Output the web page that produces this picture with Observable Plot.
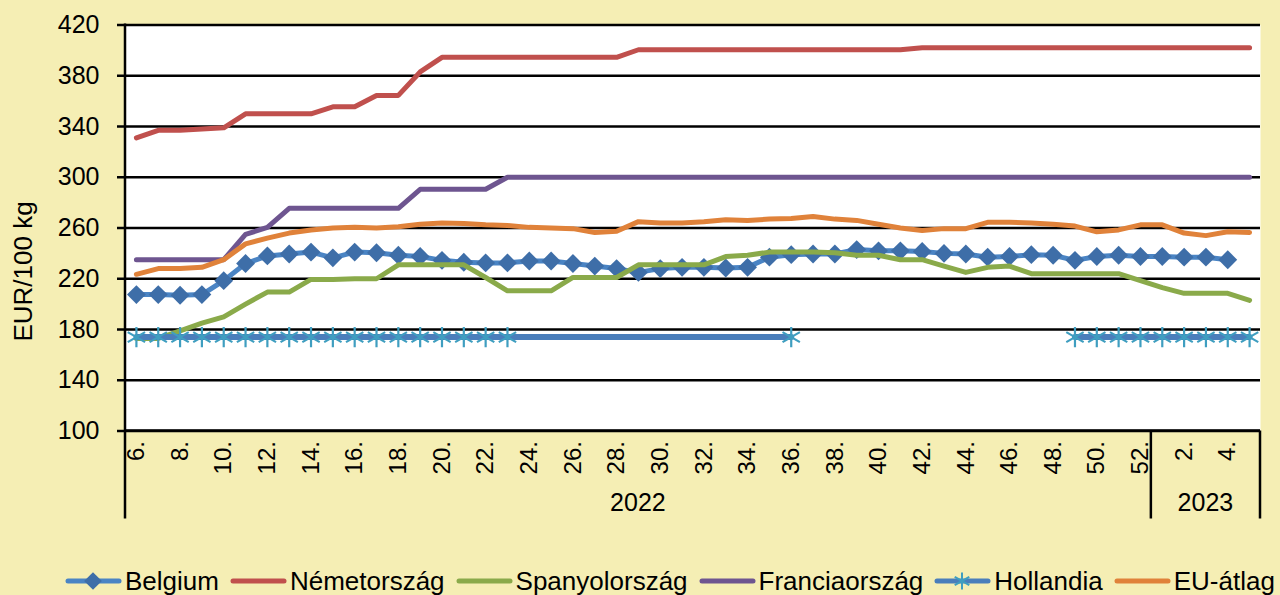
<!DOCTYPE html>
<html>
<head>
<meta charset="utf-8">
<script src="https://cdn.jsdelivr.net/npm/d3@7"></script>
<script src="https://cdn.jsdelivr.net/npm/@observablehq/plot@0.6"></script>
<style>
html,body{margin:0;padding:0;background:#F5EEB4;}
body{width:1280px;height:595px;overflow:hidden;font-family:"Liberation Sans",Arial,sans-serif;}
#chart svg{display:block;}
#legend{display:flex;align-items:center;white-space:nowrap;padding-left:65px;margin-top:12px;height:28px;font-size:26px;color:#000;}
.item{display:flex;align-items:center;margin-right:11px;}
.item svg{margin-right:3px;display:block;}
</style>
</head>
<body>
<div id="chart"></div>
<div id="legend"></div>
<script>
// ---- data ----
const weeks = [6,7,8,9,10,11,12,13,14,15,16,17,18,19,20,21,22,23,24,25,26,27,28,29,30,31,32,33,34,35,36,37,38,39,40,41,42,43,44,45,46,47,48,49,50,51,52,1,2,3,4,5];
const years = ["2022","2022","2022","2022","2022","2022","2022","2022","2022","2022","2022","2022","2022","2022","2022","2022","2022","2022","2022","2022","2022","2022","2022","2022","2022","2022","2022","2022","2022","2022","2022","2022","2022","2022","2022","2022","2022","2022","2022","2022","2022","2022","2022","2022","2022","2022","2022","2023","2023","2023","2023","2023"];
const xTickLabels = ["6.","8.","10.","12.","14.","16.","18.","20.","22.","24.","26.","28.","30.","32.","34.","36.","38.","40.","42.","44.","46.","48.","50.","52.","2.","4."];
const yTicks = [100,140,180,220,260,300,340,380,420];
const yLabel = "EUR/100 kg";

const belgium = [207.5,207.5,207,207.5,218.5,232,238,239.5,241,236.5,
  241,240.5,238.5,237.5,234.5,233,232.5,232.5,234,234,
  232,230,228,225,228,229,229,228.5,229,237,
  239,239.5,239.5,243,242,242,241.5,240,239.5,237,
  237.5,239,238.5,234.5,237.5,238.5,237.5,
  237.5,237,237,235,null];
const germany = [331,337,337,338,339,350,350,350,350,355.5,
  355.5,364.5,364.5,383,394.5,394.5,394.5,394.5,394.5,394.5,
  394.5,394.5,394.5,400.5,400.5,400.5,400.5,400.5,400.5,400.5,
  400.5,400.5,400.5,400.5,400.5,400.5,402,402,402,402,
  402,402,402,402,402,402,402,
  402,402,402,402,402];
const spain = [173,173,179,185,190,200,209.5,209.5,219.5,219.5,
  220,220,231,231,231,231,221,210.5,210.5,210.5,
  221,221,221,231,231,231,231,237.5,238.5,241,
  241,241,240.5,238.5,238.5,235,235,230,225,229,
  230,224,224,224,224,224,218.5,
  213,208.5,208.5,208.5,203];
const france = [235,235,235,235,235,255,260.5,275.5,275.5,275.5,
  275.5,275.5,275.5,290.5,290.5,290.5,290.5,300,300,300,
  300,300,300,300,300,300,300,300,300,300,
  300,300,300,300,300,300,300,300,300,300,
  300,300,300,300,300,300,300,
  300,300,300,300,300];
// "#N/A" = not reported, bridged by the line; null = empty, leaves a gap
const hollandia = [174,174,174,174,174,174,174,174,174,174,
  174,174,174,174,174,174,174,174,"#N/A","#N/A",
  "#N/A","#N/A","#N/A","#N/A","#N/A","#N/A","#N/A","#N/A","#N/A","#N/A",
  174,null,null,null,null,null,null,null,null,null,
  null,null,null,174,174,174,174,
  174,174,174,174,174];
const euAvg = [223.5,228,228,229,235,247.5,252,256,258.5,260,
  260.5,260,261,263,264,263.5,262.5,262,260.5,260,
  259.5,256.5,257.5,265,264,264,265,266.5,266,267,
  267.5,269,267,266,263,260,258,259.5,259.5,264.5,
  264.5,264,263,261.5,257,258.5,262.5,
  262.5,256,254,257,256.5];

const seriesNames = ["Belgium","Németország","Spanyolország","Franciaország","Hollandia","EU-átlag"];
const colors = {
  Belgium: "#4A84C4", BelgiumMarker: "#3E6EA8",
  "Németország": "#C0504D", "Spanyolország": "#8AAA4A", "Franciaország": "#6E5590",
  Hollandia: "#4A7EBB", HollandiaMarker: "#3F9EC0", "EU-átlag": "#E0823A"
};

// ---- helpers ----
const rows = vals => vals.map((v, i) => ({i, v}));
const lineRows = vals => rows(vals).filter(d => d.v !== "#N/A").map(d => ({i: d.i, v: typeof d.v === "number" ? d.v : null}));
const pointRows = vals => rows(vals).filter(d => typeof d.v === "number");
const xTickIdx = xTickLabels.map(l => weeks.indexOf(parseInt(l)));
const lineOpts = (c, w) => ({x: "i", y: "v", stroke: c, strokeWidth: w, strokeLinecap: "round", strokeLinejoin: "round"});

const chart = Plot.plot({
  width: 1280,
  height: 555,
  marginLeft: 125,
  marginRight: 20,
  marginTop: 24.5,
  marginBottom: 124.5,
  style: {fontFamily: "'Liberation Sans', Arial, sans-serif", fontSize: "25px", background: "transparent", color: "black", overflow: "visible"},
  x: {type: "linear", domain: [-0.5, weeks.length - 0.5], ticks: xTickIdx, tickFormat: i => xTickLabels[xTickIdx.indexOf(i)], tickRotate: -90, tickSize: 0, tickPadding: 10, label: null},
  y: {domain: [yTicks[0], yTicks[yTicks.length - 1]], ticks: yTicks, tickSize: 8, tickPadding: 18, tickFormat: d => String(d), label: null},
  marks: [
    Plot.frame({fill: "white", stroke: null}),
    Plot.ruleY(yTicks, {stroke: "black", strokeWidth: 2.5}),
    Plot.line(lineRows(belgium), lineOpts(colors.Belgium, 5)),
    Plot.dot(pointRows(belgium), {x: "i", y: "v", symbol: "diamond2", r: 8.5, fill: colors.BelgiumMarker, stroke: null}),
    Plot.line(lineRows(germany), lineOpts(colors["Németország"], 5)),
    Plot.line(lineRows(spain), lineOpts(colors["Spanyolország"], 5)),
    Plot.line(lineRows(france), lineOpts(colors["Franciaország"], 5)),
    Plot.line(lineRows(hollandia), lineOpts(colors.Hollandia, 6)),
    Plot.dot(pointRows(hollandia), {x: "i", y: "v", symbol: "asterisk", r: 9.5, stroke: colors.HollandiaMarker, strokeWidth: 2.2, fill: "none"}),
    Plot.line(lineRows(euAvg), lineOpts(colors["EU-átlag"], 5))
  ]
});
document.getElementById("chart").appendChild(chart);

// axis styling
const css = document.createElement("style");
css.textContent = `
#chart [aria-label^="y-axis"] path, #chart [aria-label^="y-axis"] line {stroke:#000;stroke-width:2.5;}
#chart [aria-label^="x-axis"] text {font-size:24px;}
`;
document.head.appendChild(css);

// multi-level category axis: group separators and year labels, placed with Plot's scales
const xs = chart.scale("x"), ys = chart.scale("y");
const svg = d3.select(chart);
const yBase = ys.apply(yTicks[0]);
const yTop = ys.apply(yTicks[yTicks.length - 1]);
const groupDepth = 88;
const groups = d3.groups(years.map((y, i) => ({y, i})), d => d.y)
  .map(([yr, arr]) => ({yr, a: arr[0].i - 0.5, b: arr[arr.length - 1].i + 0.5}));
const g = svg.append("g");
const bounds = [groups[0].a, ...groups.map(d => d.b)];
bounds.forEach((b, k) => {
  g.append("line")
    .attr("x1", xs.apply(b)).attr("x2", xs.apply(b))
    .attr("y1", k === 0 ? yTop - 1 : yBase).attr("y2", yBase + groupDepth)
    .attr("stroke", "#000").attr("stroke-width", 2.5);
});
g.append("line")
  .attr("x1", xs.apply(groups[0].a)).attr("x2", xs.apply(groups[groups.length - 1].b))
  .attr("y1", yBase).attr("y2", yBase).attr("stroke", "#000").attr("stroke-width", 2.5);
groups.forEach(d => {
  g.append("text")
    .attr("x", (xs.apply(d.a) + xs.apply(d.b)) / 2)
    .attr("y", yBase + 71)
    .attr("text-anchor", "middle").attr("dominant-baseline", "central")
    .attr("font-size", 25).attr("fill", "#000")
    .text(d.yr);
});
g.append("text")
  .attr("transform", `translate(23,${(yTop + yBase + groupDepth) / 2}) rotate(-90)`)
  .attr("text-anchor", "middle").attr("dominant-baseline", "central")
  .attr("font-size", 26).attr("fill", "#000")
  .text(yLabel);

// legend
const legend = d3.select("#legend");
seriesNames.forEach(name => {
  const item = legend.append("div").attr("class", "item");
  const s = item.append("svg").attr("width", 57).attr("height", 24);
  s.append("line").attr("x1", 3).attr("x2", 54).attr("y1", 12).attr("y2", 12)
    .attr("stroke", colors[name]).attr("stroke-width", 5).attr("stroke-linecap", "round");
  if (name === "Belgium") {
    s.append("path").attr("d", d3.symbol(d3.symbolDiamond2, 200)()).attr("transform", "translate(28,12)").attr("fill", colors.BelgiumMarker);
  }
  if (name === "Hollandia") {
    s.append("path").attr("d", d3.symbol(d3.symbolAsterisk, 200)()).attr("transform", "translate(28,12)").attr("stroke", colors.HollandiaMarker).attr("stroke-width", 2).attr("fill", "none");
  }
  item.append("span").text(name);
});
</script>
</body>
</html>
